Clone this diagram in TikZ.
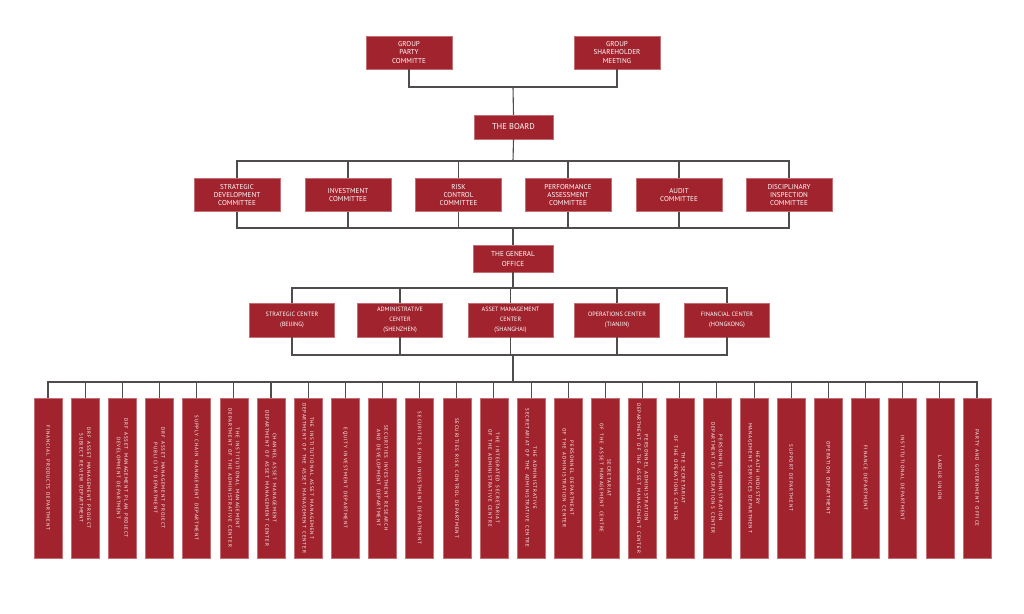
\documentclass[tikz,border=0pt]{standalone}
\usepackage{fontspec}
\setmainfont{PT Sans}
\newfontfamily\vfont[LetterSpace=17,WordSpace=1.6]{PT Sans}
\definecolor{dred}{RGB}{160,35,45}
\definecolor{dedge}{RGB}{196,110,116}
\definecolor{lineg}{RGB}{80,76,76}
\begin{document}
\begin{tikzpicture}[x=1pt,y=1pt]
\tikzset{
  conn/.style={draw=lineg, line width=1.1pt},
  rbox/.style={fill=dred, draw=dedge, line width=0.4pt, text=white, align=center, inner sep=0pt,
    font=\fontsize{7.1}{8.4}\selectfont},
  topbox/.style={rbox, minimum width=86pt, minimum height=33pt},
  combox/.style={rbox, minimum width=86pt, minimum height=33pt},
  cenbox/.style={rbox, minimum width=85pt, minimum height=34pt, font=\fontsize{6.2}{10}\selectfont},
  dbox/.style={rbox, minimum width=28pt, minimum height=160pt},
  dtext/.style={rotate=-90, text=white, align=center, inner sep=0pt,
    font=\vfont\fontsize{5.0}{7.5}\selectfont},
}
\useasboundingbox (0,0) rectangle (1024,-613);
\fill[white] (0,0) rectangle (1024,-613);

% top level
\node[topbox] (party) at (409,-52.5) {GROUP\\PARTY\\COMMITTE};
\node[topbox] (share) at (617,-52.5) {GROUP\\SHAREHOLDER\\MEETING};
\node[rbox, minimum width=79pt, minimum height=24pt, font=\fontsize{8.4}{10}\selectfont] (board) at (513.5,-127) {THE BOARD};

% committees
\node[combox] (c1) at (237,-195) {STRATEGIC\\DEVELOPMENT\\COMMITTEE};
\node[combox] (c2) at (348,-195) {INVESTMENT\\COMMITTEE};
\node[combox] (c3) at (458.5,-195) {RISK\\CONTROL\\COMMITTEE};
\node[combox] (c4) at (568,-195) {PERFORMANCE\\ASSESSMENT\\COMMITTEE};
\node[combox] (c5) at (679,-195) {AUDIT\\COMMITTEE};
\node[combox] (c6) at (789,-195) {DISCIPLINARY\\INSPECTION\\COMMITTEE};

% general office
\node[rbox, minimum width=80pt, minimum height=27pt, font=\fontsize{7.2}{10}\selectfont] (go) at (513,-258.5) {THE GENERAL\\OFFICE};

% centers
\node[cenbox] (k1) at (292,-320) {STRATEGIC CENTER\\(BEIJING)};
\node[cenbox] (k2) at (400,-320) {ADMINISTRATIVE\\CENTER\\(SHENZHEN)};
\node[cenbox] (k3) at (510.5,-320) {ASSET MANAGEMENT\\CENTER\\(SHANGHAI)};
\node[cenbox] (k4) at (617,-320) {OPERATIONS CENTER\\(TIANJIN)};
\node[cenbox] (k5) at (727,-320) {FINANCIAL CENTER\\(HONGKONG)};

% departments
\foreach \i/\t in {
 1/{FINANCIAL PRODUCTS DEPARTMENT},
 2/{DRF ASSET MANAGEMENT PROJECT\\SUBJECT REVIEW DEPARTMENT},
 3/{DRF ASSET MANAGEMENT PLAN PROJECT\\DEVELOPMENT DEPARTMENT},
 4/{DRF ASSET MANAGEMENT PROJECT\\PUBLICITY DEPARTMENT},
 5/{SUPPLY CHAIN MANAGEMENT DEPARTMENT},
 6/{THE INSTITUTIONAL MANAGEMENT\\DEPARTMENT OF THE ADMINISTRATIVE CENTER},
 7/{CHANNEL ASSET MANAGEMENT\\DEPARTMENT OF ASSET MANAGEMENT CENTER},
 8/{THE INSTITUTIONAL ASSET MANAGEMENT\\DEPARTMENT OF THE ASSET MANAGEMENT CENTER},
 9/{EQUITY INVESTMENT DEPARTMENT},
 10/{SECURITIES INVESTMENT RESEARCH\\AND DEVELOPMENT DEPARTMENT},
 11/{SECURITIES FUND INVESTMENT DEPARTMENT},
 12/{SECURITIES RISK CONTROL DEPARTMENT},
 13/{THE INTEGRATED SECRETARIAT\\OF THE ADMINISTRATIVE CENTRE},
 14/{THE ADMINISTRATIVE\\SECRETARIAT OF THE ADMINISTRATIVE CENTRE},
 15/{PERSONNEL DEPARTMENT\\OF THE ADMINISTRATION CENTER},
 16/{SECRETARIAT\\OF THE ASSET MANAGEMENT CENTRE},
 17/{PERSONNEL ADMINISTRATION\\DEPARTMENT OF THE ASSET MANAGEMENT CENTER},
 18/{THE SECRETARIAT\\OF THE OPERATIONS CENTER},
 19/{PERSONNEL ADMINISTRATION\\DEPARTMENT OF OPERATIONS CENTER},
 20/{HEALTH INDUSTRY\\MANAGEMENT SERVICES DEPARTMENT},
 21/{SUPPORT DEPARTMENT},
 22/{OPERATION DEPARTMENT},
 23/{FINANCE DEPARTMENT},
 24/{INSTITUTIONAL DEPARTMENT},
 25/{LABOUR UNION},
 26/{PARTY AND GOVERNMENT OFFICE}}{
  \pgfmathsetmacro{\xx}{48+37.16*(\i-1)}
  \node[dbox] (d\i) at (\xx,-478) {};
  \node[dtext] (t\i) at (d\i.center) {\t};
}

% connectors
\coordinate (b0) at (513,-87);
\draw[conn] (party.south) |- (b0) -| (share.south);
\draw[conn] (b0) -- (board.north);

\coordinate (b1) at (513,-161);
\draw[conn] (board.south) -- (b1);
\draw[conn] (c1.north) |- (b1) -| (c6.north);
\foreach \c in {c2,c3,c4,c5} \draw[conn] (\c.north) -- (\c.north |- b1);

\coordinate (b2) at (513,-228);
\draw[conn] (c1.south) |- (b2) -| (c6.south);
\foreach \c in {c2,c3,c4,c5} \draw[conn] (\c.south) -- (\c.south |- b2);
\draw[conn] (b2) -- (go.north);

\coordinate (b3) at (513,-288);
\draw[conn] (go.south) -- (b3);
\draw[conn] (k1.north) |- (b3) -| (k5.north);
\foreach \c in {k2,k3,k4} \draw[conn] (\c.north) -- (\c.north |- b3);

\coordinate (b4) at (513,-355);
\draw[conn] (k1.south) |- (b4) -| (k5.south);
\foreach \c in {k2,k3,k4} \draw[conn] (\c.south) -- (\c.south |- b4);

\coordinate (b5) at (513,-382);
\draw[conn] (b4) -- (b5);
\draw[conn] (d1.north) |- (b5) -| (d26.north);
\foreach \i in {2,...,25} \draw[conn] (d\i.north) -- (d\i.north |- b5);
\end{tikzpicture}
\end{document}
